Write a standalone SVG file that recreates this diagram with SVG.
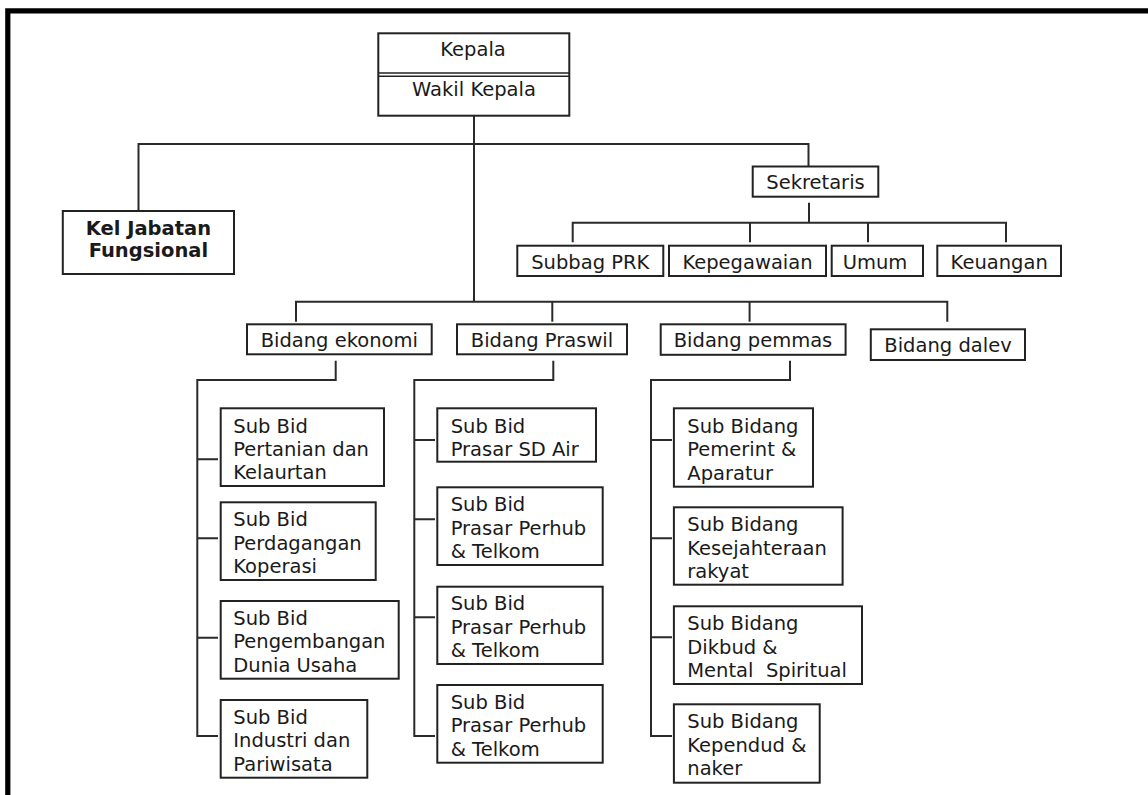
<svg xmlns="http://www.w3.org/2000/svg" width="1148" height="795" viewBox="0 0 1148 795">
<style>
.bx{fill:#fff;stroke:#222;stroke-width:2}
.t{font-family:"DejaVu Sans","Liberation Sans",sans-serif;font-size:19.5px;fill:#1a1a1a}
.c{text-anchor:middle}
.b{font-weight:bold}
.ln{fill:none;stroke:#2a2a2a;stroke-width:2}
</style>
<rect x="0" y="0" width="1148" height="795" fill="#fff"/>
<path d="M7.8,795 V10.8 H1148" fill="none" stroke="#000" stroke-width="5.2"/>
<g id="connectors" class="ln">
<path d="M474,115 V301.7"/>
<path d="M138.5,211 V144 H808.5 V166.5"/>
<path d="M809,202.7 V222.7"/>
<path d="M572.7,242.3 V222.7 H1006 V242.3"/>
<path d="M750,222.7 V242.3"/>
<path d="M868,222.7 V242.3"/>
<path d="M296,321.7 V301.7 H947.3 V321.7"/>
<path d="M552.3,301.7 V321.7"/>
<path d="M749.6,301.7 V321.7"/>
<path d="M335.7,360.7 V380 H197.3 V736 H218"/>
<path d="M197.3,459.3 H218 M197.3,538.3 H218 M197.3,637.7 H218"/>
<path d="M553.3,360.7 V380 H414.3 V736 H435"/>
<path d="M414.3,440 H435 M414.3,519.3 H435 M414.3,617.3 H435"/>
<path d="M790,360.7 V380 H651 V736 H672"/>
<path d="M651,440 H672 M651,538.3 H672 M651,637.3 H672"/>
</g>
<g id="kepala">
<rect class="bx" x="378.3" y="33.3" width="191" height="82.4"/>
<path d="M378.3,73 H569.3 M378.3,76.2 H569.3" stroke="#222" stroke-width="1.5"/>
<text class="t c" x="473" y="56">Kepala</text>
<text class="t c" x="474" y="95.7">Wakil Kepala</text>
</g>
<g id="kel-jabatan">
<rect class="bx" x="62.8" y="211" width="171.2" height="63"/>
<text class="t c b" x="148.4" y="235">Kel Jabatan</text>
<text class="t c b" x="148.4" y="257">Fungsional</text>
</g>
<g id="sekretaris">
<rect class="bx" x="752.7" y="166.5" width="125.6" height="30.2"/>
<text class="t c" x="815.5" y="189.3">Sekretaris</text>
</g>
<g id="subbag-prk">
<rect class="bx" x="517.3" y="245.7" width="146" height="30.3"/>
<text class="t c" x="590.3" y="269">Subbag PRK</text>
</g>
<g id="kepegawaian">
<rect class="bx" x="669" y="245.7" width="157" height="30.3"/>
<text class="t c" x="747.5" y="269">Kepegawaian</text>
</g>
<g id="umum">
<rect class="bx" x="831.7" y="245.7" width="91.3" height="30.3"/>
<text class="t c" x="875" y="269">Umum</text>
</g>
<g id="keuangan">
<rect class="bx" x="937.3" y="245.7" width="123.7" height="30.3"/>
<text class="t c" x="999.2" y="269">Keuangan</text>
</g>
<g id="bidang-ekonomi">
<rect class="bx" x="247" y="324.3" width="184.7" height="30"/>
<text class="t c" x="339.3" y="347.3">Bidang ekonomi</text>
</g>
<g id="bidang-praswil">
<rect class="bx" x="457" y="324.3" width="170" height="30"/>
<text class="t c" x="542" y="347.3">Bidang Praswil</text>
</g>
<g id="bidang-pemmas">
<rect class="bx" x="660.7" y="324.3" width="184.9" height="30.5"/>
<text class="t c" x="753" y="347.3">Bidang pemmas</text>
</g>
<g id="bidang-dalev">
<rect class="bx" x="870.8" y="329.3" width="154.2" height="30.7"/>
<text class="t c" x="948" y="352.3">Bidang dalev</text>
</g>
<g id="ek1">
<rect class="bx" x="220.7" y="408.3" width="163.3" height="77.7"/>
<text class="t" x="233.3" y="432.7">Sub Bid</text>
<text class="t" x="233.3" y="456">Pertanian dan</text>
<text class="t" x="233.3" y="479.3">Kelaurtan</text>
</g>
<g id="ek2">
<rect class="bx" x="220.7" y="502.3" width="155" height="77.7"/>
<text class="t" x="233.3" y="526">Sub Bid</text>
<text class="t" x="233.3" y="549.5">Perdagangan</text>
<text class="t" x="233.3" y="573">Koperasi</text>
</g>
<g id="ek3">
<rect class="bx" x="220.7" y="601" width="178" height="77.7"/>
<text class="t" x="233.3" y="624.6">Sub Bid</text>
<text class="t" x="233.3" y="648.3">Pengembangan</text>
<text class="t" x="233.3" y="672">Dunia Usaha</text>
</g>
<g id="ek4">
<rect class="bx" x="220.7" y="700" width="146.6" height="77.7"/>
<text class="t" x="233.3" y="723.5">Sub Bid</text>
<text class="t" x="233.3" y="747">Industri dan</text>
<text class="t" x="233.3" y="770.5">Pariwisata</text>
</g>
<g id="pr1">
<rect class="bx" x="437.3" y="408.3" width="158.7" height="53.4"/>
<text class="t" x="450.7" y="432.7">Sub Bid</text>
<text class="t" x="450.7" y="456">Prasar SD Air</text>
</g>
<g id="pr2">
<rect class="bx" x="437.3" y="487.3" width="165.4" height="77.7"/>
<text class="t" x="450.7" y="511">Sub Bid</text>
<text class="t" x="450.7" y="534.5">Prasar Perhub</text>
<text class="t" x="450.7" y="558">&amp; Telkom</text>
</g>
<g id="pr3">
<rect class="bx" x="437.3" y="586.7" width="165.4" height="77.3"/>
<text class="t" x="450.7" y="610.3">Sub Bid</text>
<text class="t" x="450.7" y="633.8">Prasar Perhub</text>
<text class="t" x="450.7" y="657.3">&amp; Telkom</text>
</g>
<g id="pr4">
<rect class="bx" x="437.3" y="685" width="165.4" height="77.7"/>
<text class="t" x="450.7" y="708.6">Sub Bid</text>
<text class="t" x="450.7" y="732.1">Prasar Perhub</text>
<text class="t" x="450.7" y="755.6">&amp; Telkom</text>
</g>
<g id="pm1">
<rect class="bx" x="673.9" y="408.3" width="139.1" height="78.4"/>
<text class="t" x="687.3" y="432.7">Sub Bidang</text>
<text class="t" x="687.3" y="456.2">Pemerint &amp;</text>
<text class="t" x="687.3" y="479.7">Aparatur</text>
</g>
<g id="pm2">
<rect class="bx" x="673.9" y="507.3" width="168.7" height="77.4"/>
<text class="t" x="687.3" y="531">Sub Bidang</text>
<text class="t" x="687.3" y="554.5">Kesejahteraan</text>
<text class="t" x="687.3" y="578">rakyat</text>
</g>
<g id="pm3">
<rect class="bx" x="673.9" y="606.3" width="188.1" height="77.7"/>
<text class="t" x="687.3" y="630">Sub Bidang</text>
<text class="t" x="687.3" y="653.5">Dikbud &amp;</text>
<text class="t" x="687.3" y="677" xml:space="preserve">Mental  Spiritual</text>
</g>
<g id="pm4">
<rect class="bx" x="673.9" y="704.3" width="145.8" height="78.4"/>
<text class="t" x="687.3" y="728">Sub Bidang</text>
<text class="t" x="687.3" y="751.5">Kependud &amp;</text>
<text class="t" x="687.3" y="775">naker</text>
</g>
</svg>
